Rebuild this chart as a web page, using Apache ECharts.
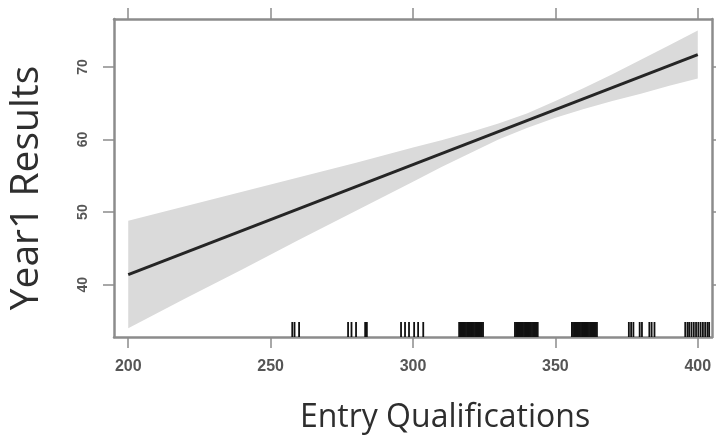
<!DOCTYPE html>
<html>
<head>
<meta charset="utf-8">
<script src="https://cdn.jsdelivr.net/npm/echarts@6.0.0/dist/echarts.min.js"></script>
<style>
  html, body { margin: 0; padding: 0; background: #ffffff; }
  #chart { width: 716px; height: 442px; }
</style>
</head>
<body>
<div id="chart"></div>
<script>
// Axis extents and tick positions
const xRange = [195, 405];
const yRange = [32.8, 76.6];
const xTicks = [200, 250, 300, 350, 400];
const yTicks = [40, 50, 60, 70];

// Fitted effect line
const fitX = [200, 400];
const fitY = [41.4, 71.7];

// Confidence band around the fit
const bandX     = [200, 220, 240, 260, 280, 300, 310, 320, 330, 340, 350, 360, 370, 380, 390, 400];
const bandLower = [34.0, 38.1, 42.1, 46.2, 50.2, 54.2, 56.2, 58.1, 60.0, 61.6, 63.0, 64.2, 65.3, 66.3, 67.4, 68.4];
const bandUpper = [48.8, 50.8, 52.8, 54.8, 56.8, 58.9, 59.9, 61.0, 62.2, 63.6, 65.3, 67.1, 69.0, 71.0, 73.0, 75.0];

// Rug of observed entry qualifications
const rugX = [
  257.6, 258.4, 260.0,
  277.2, 278.4, 280.0, 283.2, 283.8,
  295.8, 297.2, 298.6, 300.4, 301.8, 303.6,
  316.2, 316.6, 317.0, 317.4, 317.8, 318.2, 318.6, 319.0, 319.4, 319.8, 320.2, 320.6,
  321.0, 321.4, 321.8, 322.2, 322.6, 323.0, 323.4, 323.8, 324.2, 324.6,
  335.8, 336.2, 336.6, 337.0, 337.4, 337.8, 338.2, 338.6, 339.0, 339.4, 339.8, 340.2,
  340.6, 341.0, 341.4, 341.8, 342.2, 342.6, 343.0, 343.4, 343.8,
  355.8, 356.2, 356.6, 357.0, 357.4, 357.8, 358.2, 358.6, 359.0, 359.4, 359.8, 360.2,
  360.6, 361.0, 361.4, 361.8, 362.2, 362.6, 363.0, 363.4, 363.8, 364.2, 364.6,
  375.8, 376.6, 377.4, 379.6, 380.4, 383.0, 383.8, 384.8,
  395.6, 396.4, 397.0, 397.8, 398.6, 399.4, 400.2, 401.0, 401.8, 402.6, 403.4, 404.0
];

const frameColor = '#8c8c8c';
const labelFont = 'Liberation Sans';

function frameAxis(position, range, ticks, label) {
  return {
    type: 'value',
    position: position,
    min: range[0],
    max: range[1],
    axisLine: { show: true, onZero: false, lineStyle: { color: frameColor, width: 2.5 } },
    axisTick: { show: true, length: 11, customValues: ticks, lineStyle: { color: frameColor, width: 1.5 } },
    axisLabel: label,
    splitLine: { show: false }
  };
}

const chart = echarts.init(document.getElementById('chart'), null, { renderer: 'canvas' });

chart.setOption({
  backgroundColor: '#ffffff',
  animation: false,
  grid: { left: 114, right: 4, top: 19, bottom: 105 },
  xAxis: [
    frameAxis('bottom', xRange, xTicks, {
      customValues: xTicks, margin: 22, fontSize: 16, fontWeight: 'bold',
      color: '#555', fontFamily: labelFont
    }),
    frameAxis('top', xRange, xTicks, { show: false })
  ],
  yAxis: [
    frameAxis('left', yRange, yTicks, {
      customValues: yTicks, rotate: 90, margin: 24, fontSize: 14, fontWeight: 'bold',
      color: '#555', fontFamily: labelFont
    }),
    frameAxis('right', yRange, yTicks, { show: false })
  ],
  series: [
    {
      type: 'custom',
      name: 'band',
      xAxisIndex: 0, yAxisIndex: 0,
      clip: true,
      data: [[bandX[0], bandLower[0]]],
      renderItem: function (params, api) {
        const pts = [];
        for (let i = 0; i < bandX.length; i++) pts.push(api.coord([bandX[i], bandUpper[i]]));
        for (let i = bandX.length - 1; i >= 0; i--) pts.push(api.coord([bandX[i], bandLower[i]]));
        return { type: 'polygon', shape: { points: pts }, style: { fill: '#dadada' } };
      },
      z: 1
    },
    {
      type: 'line',
      name: 'fit',
      xAxisIndex: 0, yAxisIndex: 0,
      data: fitX.map((x, i) => [x, fitY[i]]),
      showSymbol: false,
      lineStyle: { color: '#252525', width: 3 },
      z: 3
    },
    {
      type: 'custom',
      name: 'rug',
      xAxisIndex: 0, yAxisIndex: 0,
      data: rugX.map(v => [v, yRange[0]]),
      encode: { x: 0, y: 1 },
      renderItem: function (params, api) {
        const p = api.coord([api.value(0), api.value(1)]);
        return {
          type: 'rect',
          shape: { x: p[0] - 0.9, y: p[1] - 15, width: 1.8, height: 15 },
          style: { fill: '#111' }
        };
      },
      z: 2
    }
  ],
  graphic: [
    {
      type: 'text', x: 27, y: 188, rotation: Math.PI / 2,
      style: {
        text: 'Year1 Results', fontSize: 39, fontFamily: 'Open Sans',
        fill: '#2e2e2e', align: 'center', verticalAlign: 'middle'
      }
    },
    {
      type: 'text', x: 445, y: 418,
      style: {
        text: 'Entry Qualifications', fontSize: 32, fontFamily: 'Open Sans',
        fill: '#2e2e2e', align: 'center', verticalAlign: 'middle'
      }
    }
  ]
});
</script>
</body>
</html>
